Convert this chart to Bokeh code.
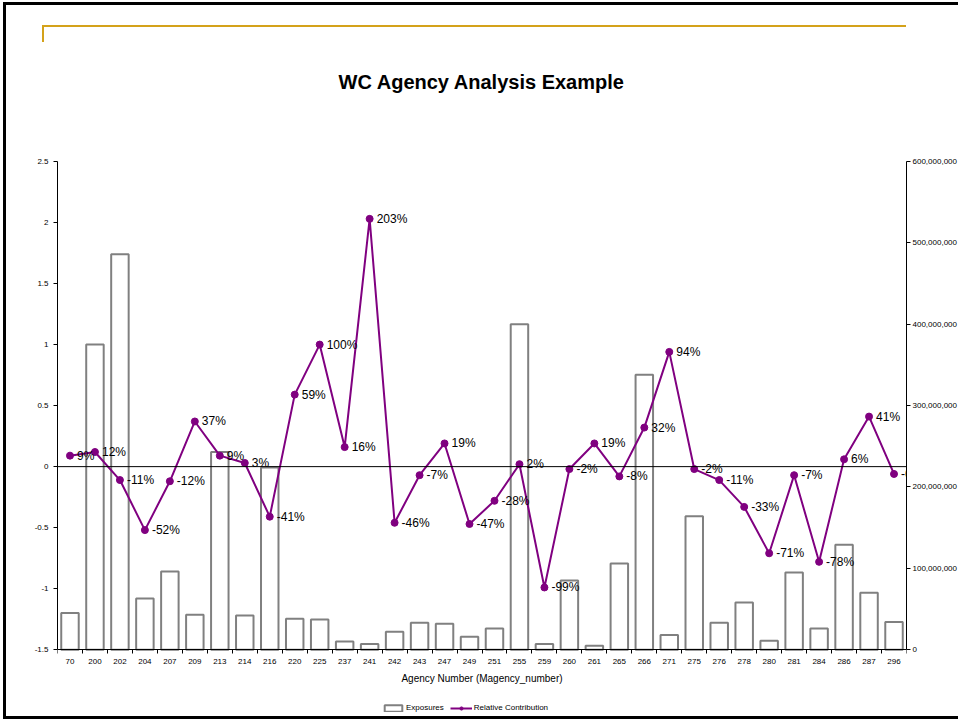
from bokeh.plotting import figure
from bokeh.models import (Range1d, LinearAxis, FixedTicker, NumeralTickFormatter, Span,
                          Legend, LegendItem, ColumnDataSource, InlineStyleSheet)
from bokeh.core.properties import value
from bokeh.embed import file_html
from bokeh.resources import INLINE

agencies = ["70", "200", "202", "204", "207", "209", "213", "214", "216", "220", "225", "237",
            "241", "242", "243", "247", "249", "251", "255", "259", "260", "261", "265", "266",
            "271", "275", "276", "278", "280", "281", "284", "286", "287", "296"]
exposures = [45e6, 375e6, 486e6, 63e6, 96e6, 43e6, 243e6, 42e6, 224e6, 38e6, 37e6, 10e6,
             7e6, 22e6, 33e6, 32e6, 16e6, 26e6, 400e6, 7e6, 85e6, 5e6, 106e6, 338e6,
             18e6, 164e6, 33e6, 58e6, 11e6, 95e6, 26e6, 129e6, 70e6, 34e6]
relative_contribution = [0.09, 0.12, -0.11, -0.52, -0.12, 0.37, 0.09, 0.03, -0.41, 0.59, 1.00, 0.16,
                         2.03, -0.46, -0.07, 0.19, -0.47, -0.28, 0.02, -0.99, -0.02, 0.19, -0.08, 0.32,
                         0.94, -0.02, -0.11, -0.33, -0.71, -0.07, -0.78, 0.06, 0.41, -0.06]
left_ticks = [-1.5, -1.0, -0.5, 0.0, 0.5, 1.0, 1.5, 2.0, 2.5]
left_tick_labels = ["-1.5", "-1", "-0.5", "0", "0.5", "1", "1.5", "2", "2.5"]
right_ticks = [0, 100e6, 200e6, 300e6, 400e6, 500e6, 600e6]

FONT = "Liberation Sans"
PURPLE = "#800080"
GOLD = "#D4A21A"

n = len(agencies)
xs = [i + 0.5 for i in range(n)]
pct_labels = ["%d%%" % round(v * 100) for v in relative_contribution]

src = ColumnDataSource(dict(x=xs, exp=exposures, rel=relative_contribution, lab=pct_labels))

# left axis spans -1.5..2.5, right axis 0..600M; the plotting area is extended
# below the axes so the category labels and legend sit inside it
left_min, left_max = -1.5, 2.5
right_min, right_max = 0, 600e6
extend = 0.58  # extra room below the axes, in left-axis units
per_unit = (right_max - right_min) / (left_max - left_min)

css = """
:host { position: relative; }
:host::before {
  content: ""; position: absolute; left: 3px; top: 2px; width: 955px; height: 717px;
  box-sizing: border-box; border-left: 3px solid #000; border-top: 3px solid #000;
  border-bottom: 3px solid #000; pointer-events: none; z-index: 100;
}
:host::after {
  content: ""; position: absolute; left: 42px; top: 25px; width: 864px; height: 17px;
  box-sizing: border-box; border-left: 2px solid %s; border-top: 2px solid %s;
  pointer-events: none; z-index: 100;
}
""" % (GOLD, GOLD)

p = figure(frame_width=849, frame_height=559, output_backend="svg", toolbar_location=None,
           x_range=Range1d(0, n), y_range=Range1d(left_min - extend, left_max),
           min_border_left=57, min_border_right=52, min_border_top=160, min_border_bottom=0,
           stylesheets=[InlineStyleSheet(css=css)])
p.outline_line_color = None
p.xgrid.visible = False
p.ygrid.visible = False
p.background_fill_color = "white"
p.border_fill_color = "white"

p.title.text = "WC Agency Analysis Example"
p.title.align = "center"
p.title.text_font = FONT
p.title.text_font_size = "20px"
p.title.text_font_style = "bold"
p.title.text_color = "black"
p.title.standoff = 137

p.extra_y_ranges = {"right": Range1d(right_min - extend * per_unit, right_max)}

bars = p.vbar(x="x", top="exp", bottom=0, width=0.7, source=src, y_range_name="right",
              fill_color="white", line_color="#808080", line_width=2)

zero = Span(location=0, dimension="width", line_color="black", line_width=1)
p.add_layout(zero)

ln = p.line("x", "rel", source=src, line_color=PURPLE, line_width=2)
pts = p.scatter("x", "rel", source=src, size=7, fill_color=PURPLE, line_color=PURPLE)
p.text("x", "rel", text="lab", source=src, x_offset=7, text_baseline="middle",
       text_font_size="12px", text_font=value(FONT), text_color="black")

# x axis, drawn at the bottom of the value axes
xa = p.xaxis[0]
xa.fixed_location = left_min
xa.ticker = FixedTicker(ticks=xs, minor_ticks=list(range(n + 1)))
xa.major_label_overrides = {x: a for x, a in zip(xs, agencies)}
xa.major_tick_out = 0
xa.major_tick_in = 0
xa.minor_tick_out = 4
xa.minor_tick_in = 0
xa.minor_tick_line_color = "black"
xa.axis_line_color = "black"
xa.major_label_text_font_size = "8px"
xa.major_label_text_font = FONT
xa.major_label_text_color = "black"
xa.major_label_standoff = 5
xa.axis_label = "Agency Number (Magency_number)"
xa.axis_label_text_font_size = "10px"
xa.axis_label_text_font = FONT
xa.axis_label_text_font_style = "normal"
xa.axis_label_text_color = "black"
xa.axis_label_standoff = 6

ya = p.yaxis[0]
ya.bounds = (left_min, left_max)
ya.ticker = FixedTicker(ticks=left_ticks, minor_ticks=[])
ya.major_label_overrides = {t: s for t, s in zip(left_ticks, left_tick_labels)}
ya.major_tick_out = 4
ya.major_tick_in = 0
ya.major_label_text_font_size = "8px"
ya.major_label_text_font = FONT
ya.major_label_text_color = "black"
ya.major_label_standoff = 5
ya.axis_line_color = "black"

ra = LinearAxis(y_range_name="right", ticker=FixedTicker(ticks=right_ticks, minor_ticks=[]),
                formatter=NumeralTickFormatter(format="0,0"), bounds=(right_min, right_max))
ra.major_tick_out = 4
ra.major_tick_in = 0
ra.major_label_text_font_size = "8px"
ra.major_label_text_font = FONT
ra.major_label_text_color = "black"
ra.major_label_standoff = 2
ra.axis_line_color = "black"
p.add_layout(ra, "right")

legend = Legend(items=[LegendItem(label="Exposures", renderers=[bars]),
                       LegendItem(label="Relative Contribution", renderers=[ln, pts])],
                orientation="horizontal", location=(325, 8),
                label_text_font_size="8px", label_text_font=FONT, label_text_color="black",
                glyph_width=22, glyph_height=8, label_standoff=2, spacing=6,
                border_line_color=None, background_fill_alpha=0, padding=2, margin=0)
p.add_layout(legend, "center")

open("out.html", "w").write(file_html(p, INLINE))
